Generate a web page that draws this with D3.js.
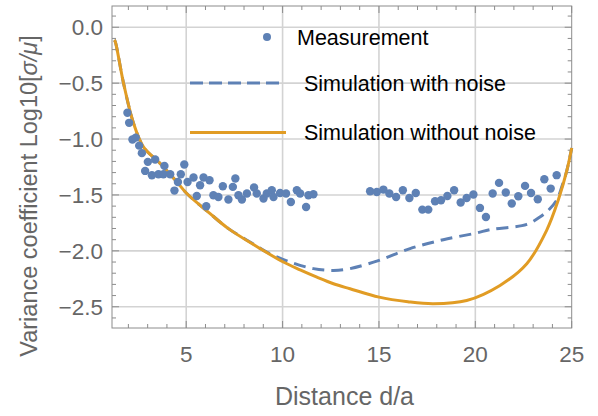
<!DOCTYPE html>
<html>
<head>
<meta charset="utf-8">
<script src="https://cdn.jsdelivr.net/npm/d3@7"></script>
<style>
  html, body { margin: 0; padding: 0; background: #fff; }
  svg { display: block; font-family: "Liberation Sans", Arial, sans-serif; }
</style>
</head>
<body>
<svg id="chart" width="598" height="416"></svg>
<script>
// measured variance coefficient (x = d/a, y = log10 sigma/mu)
const measX = [1.95, 2.04, 2.21, 2.38, 2.56, 2.70, 2.87, 3.01, 3.22, 3.39, 3.56, 3.82, 3.87, 4.17, 4.39, 4.57, 4.72, 4.90,
  5.07, 5.38, 5.55, 5.72, 5.90, 6.04, 6.21, 6.41, 6.67, 6.90, 7.19, 7.42, 7.55, 7.71, 7.89, 8.15, 8.52, 8.66, 9.01, 9.18,
  9.44, 9.53, 9.87, 10.18, 10.43, 10.74, 10.91, 11.22, 11.34, 11.60,
  14.54, 14.89, 15.23, 15.54, 15.89, 16.24, 16.58, 16.91, 17.25, 17.56, 17.91, 18.22, 18.55, 18.90, 19.24, 19.55,
  19.90, 20.24, 20.55, 20.90, 21.23, 21.58, 21.89, 22.23, 22.58, 22.89, 23.24, 23.58, 23.91, 24.22];
const measY = [-0.765, -0.855, -1.004, -0.987, -1.059, -1.126, -1.285, -1.204, -1.324, -1.183, -1.315, -1.315, -1.240, -1.315, -1.461, -1.384, -1.315, -1.228,
  -1.384, -1.344, -1.509, -1.413, -1.344, -1.601, -1.368, -1.503, -1.518, -1.422, -1.541, -1.428, -1.353, -1.503, -1.541, -1.487, -1.434, -1.487, -1.532, -1.487,
  -1.458, -1.518, -1.482, -1.487, -1.563, -1.458, -1.487, -1.608, -1.503, -1.494,
  -1.467, -1.473, -1.452, -1.487, -1.518, -1.458, -1.527, -1.482, -1.631, -1.631, -1.556, -1.547, -1.509, -1.458, -1.568, -1.527,
  -1.496, -1.616, -1.697, -1.487, -1.392, -1.478, -1.577, -1.512, -1.419, -1.482, -1.539, -1.359, -1.443, -1.323];

// simulation without noise
const cleanX = [1.27, 1.32, 1.75, 2.27, 2.78, 3.65, 4.52, 5.03, 6.24, 7.19, 8.84, 10.04, 10.91, 11.78, 12.64, 13.50, 15.01,
  16.5, 17.82, 19.55, 21.28, 22.67, 23.70, 24.30, 24.75, 25.0];
const cleanY = [-0.114, -0.129, -0.502, -0.860, -1.070, -1.219, -1.384, -1.487, -1.667, -1.801, -1.980, -2.100, -2.170, -2.235, -2.294, -2.339, -2.414,
  -2.455, -2.473, -2.444, -2.309, -2.115, -1.816, -1.547, -1.28, -1.08];

// simulation with noise
const noiseX = [1.27, 1.32, 1.75, 2.27, 2.78, 3.65, 4.52, 5.03, 6.24, 7.19, 8.4, 9.18, 10.39, 11.60, 12.64, 13.50, 15.01,
  16.61, 18.34, 20.07, 20.76, 22.67, 23.35, 23.79, 24.22, 24.5, 24.75, 25.0];
const noiseY = [-0.114, -0.129, -0.502, -0.860, -1.070, -1.219, -1.384, -1.487, -1.667, -1.801, -1.93, -2.011, -2.100, -2.159, -2.175, -2.159, -2.085,
  -1.980, -1.900, -1.840, -1.810, -1.763, -1.697, -1.637, -1.547, -1.42, -1.28, -1.08];

const xMajor = [5, 10, 15, 20, 25];
const yMajor = [0, -0.5, -1, -1.5, -2, -2.5];
const legendLabels = ['Measurement', 'Simulation with noise', 'Simulation without noise'];

const blue = '#5E81B5', orange = '#E19C24';
const svg = d3.select('#chart');
const x = d3.scaleLinear([1.15, 25], [112, 571.7]);
const y = d3.scaleLinear([-2.69, 0.19], [328, 6]);
const [x0, x1] = x.range(), [y0, y1] = y.range();

// grid
const grid = svg.append('g').attr('stroke', '#d3d3d3').attr('stroke-width', 1.6);
grid.selectAll('.gx').data(xMajor.filter((d) => d < 25)).join('line')
  .attr('x1', x).attr('x2', x).attr('y1', y0).attr('y2', y1);
grid.selectAll('.gy').data(yMajor).join('line')
  .attr('y1', y).attr('y2', y).attr('x1', x0).attr('x2', x1);

// frame + inward ticks on all sides
const xMinor = d3.range(2, 25).filter((v) => v % 5 !== 0);
const yMinor = d3.range(-26, 2).map((v) => v / 10).filter((v) => Math.round(v * 10) % 5 !== 0);
const ax = svg.append('g').attr('stroke', '#8c8c8c').attr('stroke-width', 1);
const tick = (sel, data, len, side) => sel.selectAll(null).data(data).join('line')
  .attr('x1', (d) => side === 'b' || side === 't' ? x(d) : side === 'l' ? x0 : x1)
  .attr('x2', (d) => side === 'b' || side === 't' ? x(d) : side === 'l' ? x0 + len : x1 - len)
  .attr('y1', (d) => side === 'l' || side === 'r' ? y(d) : side === 'b' ? y0 : y1)
  .attr('y2', (d) => side === 'l' || side === 'r' ? y(d) : side === 'b' ? y0 - len : y1 + len);
tick(ax, xMajor, 7, 'b'); tick(ax, xMinor, 4, 'b');
tick(ax, xMajor, 7, 't'); tick(ax, xMinor, 4, 't');
tick(ax, yMajor, 7, 'l'); tick(ax, yMinor, 4, 'l');
tick(ax, yMajor, 7, 'r'); tick(ax, yMinor, 4, 'r');
ax.append('rect').attr('x', x0).attr('y', y1).attr('width', x1 - x0).attr('height', y0 - y1).attr('fill', 'none');

// tick labels
const labels = svg.append('g').attr('fill', '#666').attr('font-size', 22.5);
labels.selectAll('.xl').data(xMajor).join('text')
  .attr('x', x).attr('y', 362).attr('text-anchor', 'middle').text((d) => d);
labels.selectAll('.yl').data(yMajor).join('text')
  .attr('x', 103).attr('y', (d) => y(d)).attr('dy', '0.36em').attr('text-anchor', 'end')
  .text((d) => d3.format('.1f')(d).replace('-', '\u2212'));

// axis titles
labels.append('text').attr('x', 344.5).attr('y', 405).attr('text-anchor', 'middle').attr('font-size', 25).text('Distance d/a');
const yt = labels.append('text').attr('transform', 'translate(37,196) rotate(-90)').attr('text-anchor', 'middle').attr('font-size', 23.5);
yt.append('tspan').text('Variance coefficient Log10[');
yt.append('tspan').attr('font-style', 'italic').text('σ/μ');
yt.append('tspan').text(']');

// curves
const line = d3.line().x((d) => x(d[0])).y((d) => y(d[1])).curve(d3.curveCatmullRom.alpha(0.5));
const plot = svg.append('g');
plot.append('path').datum(d3.zip(noiseX, noiseY)).attr('d', line).attr('fill', 'none')
  .attr('stroke', blue).attr('stroke-width', 3).attr('stroke-dasharray', '12,7');
plot.append('path').datum(d3.zip(cleanX, cleanY)).attr('d', line).attr('fill', 'none')
  .attr('stroke', orange).attr('stroke-width', 3);
plot.selectAll('circle').data(d3.zip(measX, measY)).join('circle')
  .attr('cx', (d) => x(d[0])).attr('cy', (d) => y(d[1])).attr('r', 4.2).attr('fill', blue);

// legend
const lg = svg.append('g').attr('font-size', 21.5).attr('fill', '#000');
lg.append('circle').attr('cx', 267).attr('cy', 37).attr('r', 4).attr('fill', blue);
lg.append('line').attr('x1', 190).attr('x2', 282).attr('y1', 83).attr('y2', 83)
  .attr('stroke', blue).attr('stroke-width', 3).attr('stroke-dasharray', '13,6');
lg.append('line').attr('x1', 190).attr('x2', 286).attr('y1', 132.5).attr('y2', 132.5)
  .attr('stroke', orange).attr('stroke-width', 3);
lg.selectAll('text').data(legendLabels).join('text')
  .attr('x', (d, i) => i === 0 ? 297 : 304).attr('y', (d, i) => [37, 83, 132.5][i]).attr('dy', '0.35em').text((d) => d);
</script>
</body>
</html>
